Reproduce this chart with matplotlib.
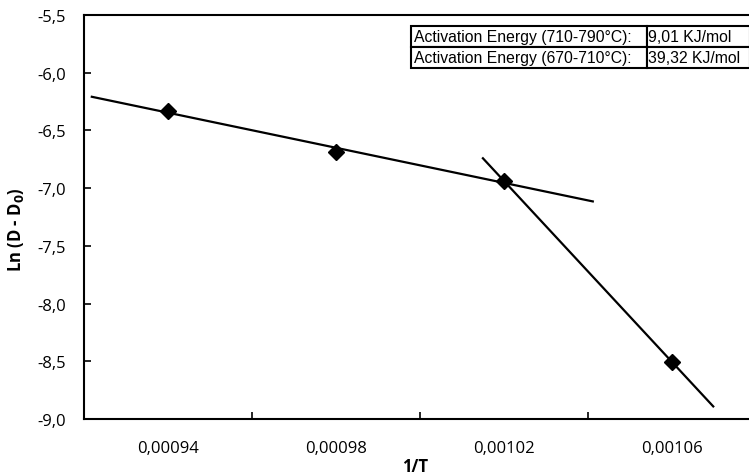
import matplotlib.pyplot as plt
import numpy as np

# data
inv_t = np.array([0.00094, 0.00098, 0.00102, 0.00106])
ln_d = np.array([-6.33, -6.683, -6.938, -8.506])

# trendline ranges (fit on point subsets)
fit1_idx = [0, 1, 2]
fit1_range = [0.0009216, 0.0010414]
fit2_idx = [2, 3]
fit2_range = [0.0010148, 0.00107]

table_rows = [["Activation Energy (710-790°C):", "9,01 KJ/mol"],
              ["Activation Energy (670-710°C):", "39,32 KJ/mol"]]

x_labels = ["0,00094", "0,00098", "0,00102", "0,00106"]
y_ticks = [-9.0, -8.5, -8.0, -7.5, -7.0, -6.5, -6.0, -5.5]

plt.rcParams['font.family'] = ['Open Sans', 'DejaVu Sans']

fig = plt.figure(figsize=(7.49, 4.77), dpi=100)
ax = fig.add_axes([84/749, 1-420/477, 672/749, 404/477])

for idx, rng in [(fit1_idx, fit1_range), (fit2_idx, fit2_range)]:
    k, b = np.polyfit(inv_t[idx], ln_d[idx], 1)
    xs = np.array(rng)
    ax.plot(xs, k*xs + b, color='black', lw=1.6, solid_capstyle='butt')

ax.plot(inv_t, ln_d, linestyle='none', marker='D', markersize=8.5,
        color='black', zorder=3)

ax.set_xlim(0.00092, 0.00108)
ax.set_ylim(-9.0, -5.5)
ax.set_yticks(y_ticks)
ax.set_yticklabels([f"{v:.1f}".replace('.', ',') for v in y_ticks], fontsize=12)

# labels sit at data values, tick marks sit halfway between
ax.set_xticks([0.00096, 0.00100, 0.00104])
ax.set_xticklabels([])
ax.set_xticks(inv_t, minor=True)
ax.set_xticklabels(x_labels, minor=True, fontsize=12)
ax.tick_params(axis='x', which='minor', length=0, pad=15)
ax.tick_params(axis='x', which='major', direction='in', length=5, width=1.2)
ax.tick_params(axis='y', direction='in', length=5, width=1.2, pad=13)

for s in ['left', 'bottom', 'top']:
    ax.spines[s].set_linewidth(1.5)
ax.spines['right'].set_visible(False)

fig.text(415/749, 1-467/477, "1/T", ha='center', va='center',
         fontsize=12, fontweight='bold')
fig.text(16/749, 1-230/477, r"Ln (D - D$_\mathbf{0}$)", ha='center', va='center',
         rotation=90, fontsize=12, fontweight='bold')

tbl = ax.table(cellText=table_rows, cellLoc='left',
               bbox=[(410.7-84)/672, (420-69)/404, (750-410.7)/672, 42.3/404],
               colWidths=[236, 103])
tbl.auto_set_font_size(False)
for (r, c), cell in tbl.get_celld().items():
    cell.set_linewidth(1.5)
    cell.set_edgecolor('black')
    cell.PAD = 0.015
    cell.get_text().set_fontsize(11.3)
    cell.get_text().set_fontfamily('Liberation Sans')

fig.savefig("out.png", dpi=100)
